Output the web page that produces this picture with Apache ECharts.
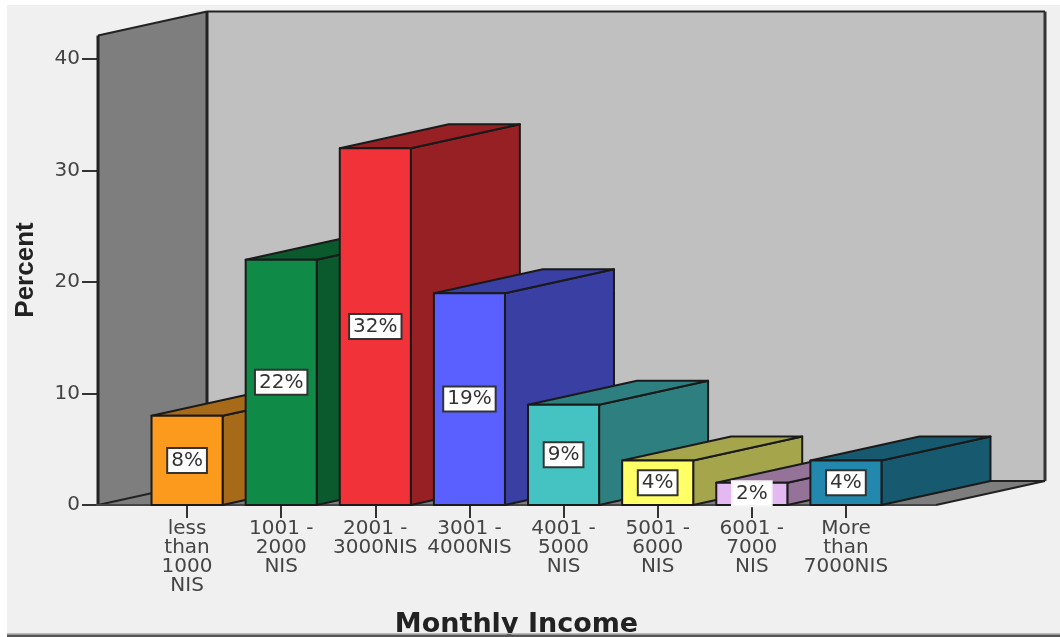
<!DOCTYPE html>
<html>
<head>
<meta charset="utf-8">
<style>html,body{margin:0;padding:0;background:#fff}#chart{width:1060px;height:637px}</style>
<script src="https://cdn.jsdelivr.net/npm/echarts@6/dist/echarts.min.js"></script>
</head>
<body>
<div id="chart"></div>
<script>
// Monthly income distribution, drawn as an extruded bar chart.
const incomeBands = [
  'less\nthan\n1000\nNIS', '1001 -\n2000\nNIS', '2001 -\n3000NIS', '3001 -\n4000NIS',
  '4001 -\n5000\nNIS', '5001 -\n6000\nNIS', '6001 -\n7000\nNIS', 'More\nthan\n7000NIS'
];
const percents = [8, 22, 32, 19, 9, 4, 2, 4];
const frontColors = ['#fb9a1d', '#0f8a47', '#f23239', '#5a60ff', '#45c3c3', '#ffff66', '#e4b8f0', '#2388ad'];
const sideColors  = ['#a66a18', '#0a5a2e', '#962024', '#3a3fa4', '#2e7f80', '#a5a64c', '#957399', '#175a70'];
const labelBorders = ['#333', '#333', '#333', '#333', '#333', '#333', '#f4f4f4', '#333'];
const yTicks = { min: 0, max: 40, interval: 10 };
const wallTopValue = 42.1;

// Extrusion vector shared by the walls and the bars.
const DEPTH_X = 109, DEPTH_Y = -24;
const WALL_LEFT_PAD = 42, WALL_RIGHT_PAD = 43;
const INK = '#222';

function renderWalls(params, api) {
  const cs = params.coordSys;
  const y0 = api.coord([0, 0])[1];
  const yTop = api.coord([0, wallTopValue])[1];
  const xL = cs.x - WALL_LEFT_PAD, xR = cs.x + cs.width + WALL_RIGHT_PAD;
  const bx = xL + DEPTH_X, by0 = y0 + DEPTH_Y, byTop = yTop + DEPTH_Y;
  const bxR = xR + DEPTH_X;
  const poly = (points, fill) => ({
    type: 'polygon', shape: { points }, style: { fill, stroke: 'none' }
  });
  const line = (x1, y1, x2, y2, w, c) => ({
    type: 'line', shape: { x1, y1, x2, y2 }, style: { stroke: c || INK, lineWidth: w }
  });
  return {
    type: 'group',
    children: [
      poly([[bx, byTop], [bxR, byTop], [bxR, by0], [bx, by0]], '#c0c0c0'),
      poly([[xL, y0], [xL, yTop], [bx, byTop], [bx, by0]], '#7e7e7e'),
      poly([[xL, y0], [bx, by0], [bxR, by0], [xR, y0]], '#7e7e7e'),
      line(bx, byTop, bxR, byTop, 2),
      line(bxR, byTop, bxR, by0, 3, '#333'),
      line(bx, byTop, bx, by0, 3),
      line(xL, yTop, bx, byTop, 2),
      line(xL, yTop, xL, y0, 3),
      line(xL, y0, bx, by0, 2),
      line(bx, by0, bxR, by0, 2),
      line(xR, y0, bxR, by0, 2),
      line(xL - 2, y0, xR, y0, 2, '#444')
    ]
  };
}

function renderBar(params, api) {
  const i = api.value(0), v = api.value(1);
  const [cx, yTop] = api.coord([i, v]);
  const y0 = api.coord([i, 0])[1];
  const labelY = api.coord([i, v / 2])[1];
  const w = api.size([1, 0])[0] * 0.755;
  const xL = cx - w / 2, xR = cx + w / 2;
  const edge = { stroke: '#1a1a1a', lineWidth: 2, lineJoin: 'round' };
  return {
    type: 'group',
    children: [
      { type: 'polygon',
        shape: { points: [[xR, y0], [xR, yTop], [xR + DEPTH_X, yTop + DEPTH_Y], [xR + DEPTH_X, y0 + DEPTH_Y]] },
        style: Object.assign({ fill: sideColors[i] }, edge) },
      { type: 'polygon',
        shape: { points: [[xL, yTop], [xL + DEPTH_X, yTop + DEPTH_Y], [xR + DEPTH_X, yTop + DEPTH_Y], [xR, yTop]] },
        style: Object.assign({ fill: sideColors[i] }, edge) },
      { type: 'rect',
        shape: { x: xL, y: yTop, width: w, height: y0 - yTop },
        style: Object.assign({ fill: frontColors[i] }, edge) },
      { type: 'text',
        style: {
          text: v + '%', x: cx, y: labelY, align: 'center', verticalAlign: 'middle',
          font: '20px "DejaVu Sans"', fill: '#333', backgroundColor: '#fff',
          borderColor: labelBorders[i], borderWidth: 2, padding: [2, 3, 1, 3]
        } }
    ]
  };
}

const chart = echarts.init(document.getElementById('chart'), null, { renderer: 'canvas' });
chart.setOption({
  animation: false,
  backgroundColor: '#fff',
  graphic: [
    { type: 'rect', z: -10, silent: true, shape: { x: 7, y: 5, width: 1053, height: 628 }, style: { fill: '#f0f0f0' } },
    { type: 'rect', z: 20, silent: true, shape: { x: 7, y: 633, width: 1053, height: 1.5 }, style: { fill: '#bbb' } },
    { type: 'rect', z: 20, silent: true, shape: { x: 7, y: 634.5, width: 1053, height: 3 }, style: { fill: '#555' } }
  ],
  grid: { left: 140, top: 59, width: 753, height: 446, outerBoundsMode: 'none' },
  xAxis: {
    type: 'category',
    data: incomeBands,
    name: 'Monthly Income',
    nameLocation: 'middle',
    nameGap: 106,
    nameMoveOverlap: false,
    nameTextStyle: { fontFamily: 'DejaVu Sans', fontWeight: 'bold', fontSize: 27, color: '#222' },
    axisLine: { show: false },
    axisTick: { show: true, alignWithLabel: true, length: 13, lineStyle: { color: '#333', width: 2 } },
    axisLabel: { interval: 0, margin: 14, hideOverlap: false, fontFamily: 'DejaVu Sans', fontSize: 20, lineHeight: 19, color: '#444' }
  },
  yAxis: {
    type: 'value',
    min: yTicks.min, max: yTicks.max, interval: yTicks.interval,
    offset: WALL_LEFT_PAD,
    name: 'Percent',
    nameLocation: 'middle',
    nameGap: 59,
    nameMoveOverlap: false,
    nameTextStyle: { fontFamily: 'Liberation Sans', fontWeight: 'bold', fontSize: 26, color: '#222', padding: [0, 0, 0, 24] },
    splitLine: { show: false },
    axisLine: { show: true, lineStyle: { color: INK, width: 2 } },
    axisTick: { show: true, length: 16, lineStyle: { color: '#333', width: 2 } },
    axisLabel: { margin: 18, fontFamily: 'DejaVu Sans', fontSize: 20, color: '#444' }
  },
  series: [
    { type: 'custom', z: 1, silent: true, renderItem: renderWalls, data: [[0, 0]], encode: { x: 0, y: 1 }, clip: false },
    { type: 'custom', z: 2, silent: true, renderItem: renderBar, data: percents.map((v, i) => [i, v]), encode: { x: 0, y: 1 }, clip: false }
  ]
});
</script>
</body>
</html>
